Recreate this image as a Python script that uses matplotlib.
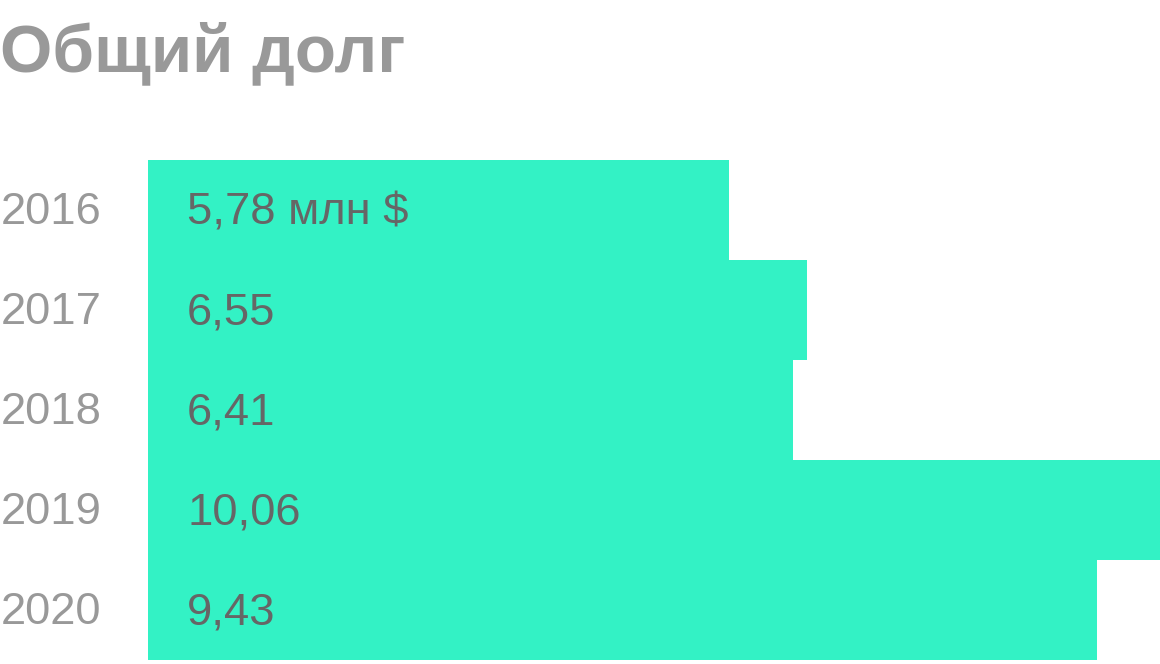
import matplotlib
matplotlib.use("Agg")
from matplotlib import pyplot as plt
from matplotlib import transforms

years = ["2016", "2017", "2018", "2019", "2020"]
debt = [5.78, 6.55, 6.41, 10.06, 9.43]
labels = ["5,78 млн $", "6,55", "6,41", "10,06", "9,43"]

fig = plt.figure(figsize=(11.6, 6.64), dpi=100)
ax = fig.add_axes([148 / 1160, 4 / 664, 1 - 148 / 1160, 500 / 664])

pos = list(range(len(years)))
ax.barh(pos, debt, height=1.0, color="#33F2C5", linewidth=0)
ax.set_xlim(0, max(debt))
ax.set_ylim(len(years) - 0.5, -0.5)
ax.axis("off")

# years on the left, in figure x / data y
trans = transforms.blended_transform_factory(fig.transFigure, ax.transData)
for i, y in enumerate(years):
    ax.text(1 / 1160, i + 0.145, y, transform=trans, family="Liberation Sans",
            fontsize=32.7, color="#999999", va="baseline", ha="left")
    ax.text(0.39, i + 0.145, labels[i], family="Liberation Sans",
            fontsize=32.7, color="#666666", va="baseline", ha="left")

fig.text(0, 1 - 71 / 664, "Общий долг", family="Liberation Sans",
         fontweight="bold", fontsize=48.5, color="#999999",
         va="baseline", ha="left")

fig.savefig("out.png", dpi=100)
